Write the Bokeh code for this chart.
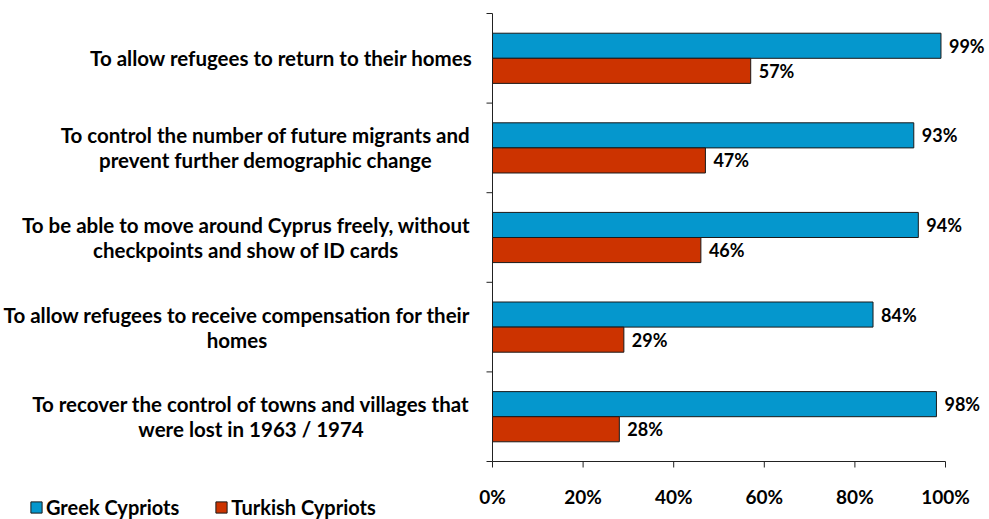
import glob, struct
from bokeh.plotting import figure
from bokeh.models import Range1d, ColumnDataSource, Legend, LegendItem
from bokeh.transform import dodge
from bokeh.core.properties import value
from bokeh.embed import file_html
from bokeh.resources import INLINE

# ---------------- data ----------------
categories = [
    "To allow refugees to return to their homes",
    "To control the number of future migrants and\nprevent further demographic change",
    "To be able to move around Cyprus freely, without\ncheckpoints and show of ID cards",
    "To allow refugees to receive compensation for their\nhomes",
    "To recover the control of towns and villages that\nwere lost in 1963 / 1974",
]
greek = [0.99, 0.93, 0.94, 0.84, 0.98]
turkish = [0.57, 0.47, 0.46, 0.29, 0.28]
series_names = ["Greek Cypriots", "Turkish Cypriots"]
x_ticks = [0, 0.2, 0.4, 0.6, 0.8, 1.0]
x_tick_labels = ["0%", "20%", "40%", "60%", "80%", "100%"]

# ---------------- style ----------------
BLUE = "#0597cd"
RED = "#cc3300"
EDGE = "#1a1a1a"
AXIS_C = "#222222"
FONT = "Lato"
CAT_PX = 20.5
VAL_FS = "18px"
TICK_FS = "19px"
LEG_FS = "20px"

W, H = 989, 519
PLOT_TOP, PLOT_BOTTOM = 13, 461   # screen y of the plotting area
AXIS_X = 492          # screen x of 0 %
UNIT_X = 453          # px for 100 %
LABEL_GAP = 20        # px between category labels and the axis
TICK_LEN = 6
LINE_GAP = 12.5
XLAB_OFFSET = 35


# ---------- text measuring (for centred two-line labels) ----------
def load_font(path):
    d = open(path, "rb").read()
    num = struct.unpack(">H", d[4:6])[0]
    tabs = {}
    for i in range(num):
        tag, _, off, _ln = struct.unpack(">4sIII", d[12 + 16 * i:28 + 16 * i])
        tabs[tag] = off
    upem = struct.unpack(">H", d[tabs[b"head"] + 18:tabs[b"head"] + 20])[0]
    nhm = struct.unpack(">H", d[tabs[b"hhea"] + 34:tabs[b"hhea"] + 36])[0]
    hm = tabs[b"hmtx"]
    adv = [struct.unpack(">H", d[hm + 4 * i:hm + 4 * i + 2])[0] for i in range(nhm)]
    cm = tabs[b"cmap"]
    nsub = struct.unpack(">H", d[cm + 2:cm + 4])[0]
    cmap = {}
    for i in range(nsub):
        pid, eid, off = struct.unpack(">HHI", d[cm + 4 + 8 * i:cm + 12 + 8 * i])
        so = cm + off
        fmt = struct.unpack(">H", d[so:so + 2])[0]
        if fmt != 4:
            continue
        segx2 = struct.unpack(">H", d[so + 6:so + 8])[0]
        seg = segx2 // 2
        ends = struct.unpack(f">{seg}H", d[so + 14:so + 14 + segx2])
        s_off = so + 16 + segx2
        starts = struct.unpack(f">{seg}H", d[s_off:s_off + segx2])
        d_off = s_off + segx2
        deltas = struct.unpack(f">{seg}h", d[d_off:d_off + segx2])
        r_off = d_off + segx2
        ros = struct.unpack(f">{seg}H", d[r_off:r_off + segx2])
        for s in range(seg):
            for c in range(starts[s], min(ends[s], 0x2FF) + 1):
                if ros[s] == 0:
                    g = (c + deltas[s]) & 0xFFFF
                else:
                    a = r_off + 2 * s + ros[s] + 2 * (c - starts[s])
                    g = struct.unpack(">H", d[a:a + 2])[0]
                    if g:
                        g = (g + deltas[s]) & 0xFFFF
                cmap[c] = g
        if cmap:
            break
    return upem, adv, cmap


FONT_INFO = None
for pat in ["/usr/share/fonts/**/Lato-Bold.ttf", "/usr/local/share/fonts/**/Lato-Bold.ttf",
            "/usr/share/fonts/**/Lato-Bold*.ttf"]:
    hits = glob.glob(pat, recursive=True)
    if hits:
        try:
            FONT_INFO = load_font(hits[0])
            break
        except Exception:
            FONT_INFO = None


def text_width(s, px):
    if FONT_INFO is None:
        return 0.53 * px * len(s)
    upem, adv, cmap = FONT_INFO
    tot = 0
    for ch in s:
        g = cmap.get(ord(ch), 0)
        tot += adv[g] if g < len(adv) else adv[-1]
    return tot * px / upem


# ---------------- figure: frame spans the whole page ----------------
n = len(categories)
ypos = [n - 0.5 - i for i in range(n)]
unit_y = (PLOT_BOTTOM - PLOT_TOP) / n
x_range = Range1d(-AXIS_X / UNIT_X, (W - AXIS_X) / UNIT_X)
y_range = Range1d(-(H - PLOT_BOTTOM) / unit_y, n + PLOT_TOP / unit_y)

p = figure(width=W, height=H, output_backend="svg", toolbar_location=None,
           x_range=x_range, y_range=y_range,
           min_border_left=0, min_border_right=0, min_border_top=0, min_border_bottom=0,
           x_axis_location=None, y_axis_location=None)
p.outline_line_color = None
p.grid.visible = False

# y axis line + boundary ticks
bounds_y = list(range(n + 1))
p.segment(x0=[0], y0=[0], x1=[0], y1=[n], line_color=AXIS_C, line_width=1)
p.segment(x0=[-TICK_LEN / UNIT_X] * len(bounds_y), y0=bounds_y,
          x1=[0] * len(bounds_y), y1=bounds_y, line_color=AXIS_C, line_width=1)

# x axis line + ticks + tick labels
p.segment(x0=[0], y0=[0], x1=[x_ticks[-1]], y1=[0], line_color=AXIS_C, line_width=1)
p.segment(x0=x_ticks, y0=[0] * len(x_ticks), x1=x_ticks,
          y1=[-TICK_LEN / unit_y] * len(x_ticks), line_color=AXIS_C, line_width=1)
p.text(x=x_ticks, y=[0] * len(x_ticks), text=x_tick_labels, y_offset=XLAB_OFFSET,
       text_align="center", text_baseline="middle", text_font=value(FONT),
       text_font_style="bold", text_font_size=TICK_FS, text_color="black")

# category labels: block right-aligned, lines centred
label_right = -LABEL_GAP / UNIT_X
s_x, s_y, s_t = [], [], []
l1_x, l1_y, l1_t, l2_x, l2_y, l2_t = [], [], [], [], [], []
for yv, cat in zip(ypos, categories):
    lines = cat.split("\n")
    if len(lines) == 1:
        s_x.append(label_right); s_y.append(yv); s_t.append(lines[0])
    else:
        wmax = max(text_width(t, CAT_PX) for t in lines)
        cx = label_right - (wmax / 2) / UNIT_X
        l1_x.append(cx); l1_y.append(yv); l1_t.append(lines[0])
        l2_x.append(cx); l2_y.append(yv); l2_t.append(lines[1])

txt_kw = dict(text_font=value(FONT), text_font_style="bold",
              text_font_size=f"{CAT_PX}px", text_color="black", text_baseline="middle")
p.text(x=s_x, y=s_y, text=s_t, text_align="right", **txt_kw)
p.text(x=l1_x, y=l1_y, text=l1_t, text_align="center", y_offset=-LINE_GAP, **txt_kw)
p.text(x=l2_x, y=l2_y, text=l2_t, text_align="center", y_offset=LINE_GAP, **txt_kw)

# bars
src = ColumnDataSource(dict(
    y=ypos, greek=greek, turkish=turkish,
    glab=[f"{round(v * 100)}%" for v in greek],
    tlab=[f"{round(v * 100)}%" for v in turkish],
))
bh = 0.28
rg = p.hbar(y=dodge("y", 0.14), right="greek", left=0, height=bh, source=src,
            fill_color=BLUE, line_color=EDGE, line_width=1)
rt = p.hbar(y=dodge("y", -0.14), right="turkish", left=0, height=bh, source=src,
            fill_color=RED, line_color=EDGE, line_width=1)

val_kw = dict(source=src, x_offset=8, text_align="left", text_baseline="middle",
              text_font=value(FONT), text_font_style="bold", text_font_size=VAL_FS,
              text_color="black")
p.text(x="greek", y=dodge("y", 0.14), text="glab", **val_kw)
p.text(x="turkish", y=dodge("y", -0.14), text="tlab", **val_kw)

# legend at the bottom left
legend = Legend(items=[LegendItem(label=series_names[0], renderers=[rg]),
                       LegendItem(label=series_names[1], renderers=[rt])],
                location=(29, 0), orientation="horizontal",
                glyph_width=14, glyph_height=14, label_standoff=3, spacing=35,
                label_height=20, padding=0, margin=0,
                border_line_color=None, background_fill_alpha=0,
                label_text_font=FONT, label_text_font_style="bold",
                label_text_font_size=LEG_FS, label_text_color="black")
p.add_layout(legend, "center")

open("out.html", "w").write(file_html(p, INLINE))
